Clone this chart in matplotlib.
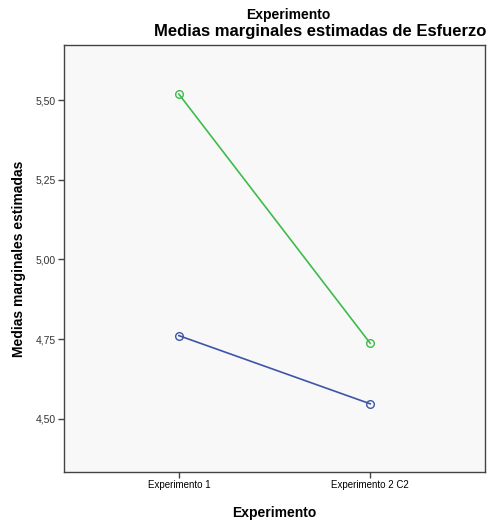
import matplotlib
matplotlib.use("Agg")
import matplotlib.pyplot as plt

plt.rcParams['font.family'] = ['Liberation Sans', 'DejaVu Sans']

categories = ["Experimento 1", "Experimento 2 C2"]
serie_verde = [5.519, 4.737]
serie_azul = [4.761, 4.547]
yticks = [4.50, 4.75, 5.00, 5.25, 5.50]
ytick_labels = ["4,50", "4,75", "5,00", "5,25", "5,50"]

fig = plt.figure(figsize=(4.94, 5.22), dpi=100)
ax = fig.add_axes([0.1296, 0.0958, 0.8522, 0.818])
ax.set_facecolor('#F8F8F8')

x = list(range(len(categories)))
ax.plot(x, serie_verde, color='#3EBB4A', lw=1.2, marker='o', ms=5.5,
        mfc='none', mec='#3EBB4A', mew=1.0)
ax.plot(x, serie_azul, color='#3D55A8', lw=1.2, marker='o', ms=5.5,
        mfc='none', mec='#3D55A8', mew=1.0)

ax.set_xlim(-0.6, 1.6)
ax.set_ylim(4.333, 5.673)
ax.set_xticks(x)
ax.set_xticklabels(categories, fontsize=7)
ax.set_yticks(yticks)
ax.set_yticklabels(ytick_labels, fontsize=7.5, color='#333333')
ax.tick_params(axis='both', length=4, width=1, color='#444444', pad=2)

for s in ax.spines.values():
    s.set_color('#444444')
    s.set_linewidth(1)

ax.set_xlabel("Experimento", fontsize=10, fontweight='bold', labelpad=11)
ax.set_ylabel("Medias marginales estimadas", fontsize=10, fontweight='bold', labelpad=7)

fig.text(288/494, 1 - 15/522, "Experimento", ha='center', va='center',
         fontsize=10, fontweight='bold')
fig.text(320/494, 1 - 31/522, "Medias marginales estimadas de Esfuerzo",
         ha='center', va='center', fontsize=12, fontweight='bold')

fig.savefig("out.png", dpi=100)
